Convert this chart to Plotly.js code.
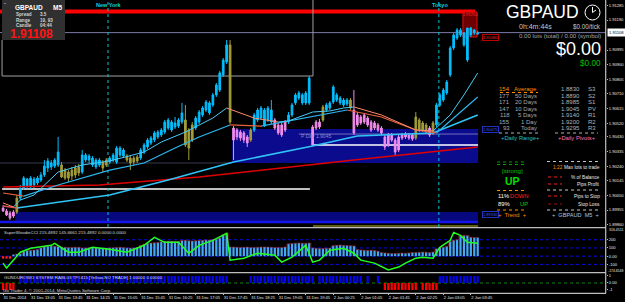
<!DOCTYPE html>
<html><head><meta charset="utf-8">
<script src="https://cdn.plot.ly/plotly-3.0.1.min.js"></script>
<style>html,body{margin:0;padding:0;background:#000;}#chart{width:625px;height:302px;}</style>
</head><body><div id="chart"></div>
<script>
// ================= DATA =================
const barOpen = [1.89968,1.89949,1.89936,1.89942,1.89942,1.90033,1.90098,1.90111,1.90105,1.90118,
 1.90131,1.90150,1.90183,1.90228,1.90235,1.90241,1.90248,1.90248,1.90215,1.90202,
 1.90215,1.90228,1.90235,1.90202,1.90280,1.90280,1.90248,1.90235,1.90248,1.90267,
 1.90280,1.90267,1.90280,1.90267,1.90313,1.90306,1.90306,1.90293,1.90293,1.90300,
 1.90293,1.90332,1.90365,1.90391,1.90410,1.90430,1.90443,1.90462,1.90488,1.90475,
 1.90495,1.90501,1.90527,1.90540,1.90475,1.90508,1.90488,1.90527,1.90573,1.90605,
 1.90586,1.90638,1.90703,1.90735,1.90833,1.90917,1.91028,1.90488,1.90475,1.90462,
 1.90456,1.90430,1.90475,1.90475,1.90540,1.90553,1.90508,1.90540,1.90527,1.90540,
 1.90508,1.90508,1.90527,1.90527,1.90573,1.90651,1.90683,1.90651,1.90651,1.90651,
 1.90495,1.90527,1.90527,1.90625,1.90605,1.90618,1.90657,1.90670,1.90651,1.90638,
 1.90644,1.90670,1.90605,1.90573,1.90560,1.90573,1.90553,1.90527,1.90521,1.90508,
 1.90488,1.90430,1.90443,1.90443,1.90410,1.90430,1.90443,1.90449,1.90443,1.90443,
 1.90560,1.90540,1.90521,1.90508,1.90488,1.90521,1.90508,1.90638,1.90670,1.90716,
 1.90833,1.91008,1.91073,1.91093,1.91028,1.90930,1.91093,1.91106,1.91099];
const barHigh = [1.89988,1.89962,1.89949,1.89955,1.90053,1.90118,1.90176,1.90163,1.90176,1.90170,
 1.90176,1.90202,1.90280,1.90293,1.90280,1.90293,1.90430,1.90267,1.90228,1.90215,
 1.90235,1.90248,1.90254,1.90345,1.90326,1.90319,1.90306,1.90293,1.90293,1.90280,
 1.90293,1.90306,1.90326,1.90371,1.90371,1.90358,1.90319,1.90306,1.90306,1.90313,
 1.90358,1.90391,1.90423,1.90436,1.90469,1.90475,1.90488,1.90540,1.90553,1.90540,
 1.90560,1.90553,1.90651,1.90638,1.90488,1.90527,1.90566,1.90605,1.90631,1.90670,
 1.90664,1.90716,1.90781,1.90859,1.90943,1.91060,1.91060,1.90501,1.90488,1.90475,
 1.90469,1.90443,1.90488,1.90586,1.90618,1.90631,1.90618,1.90631,1.90670,1.90553,
 1.90521,1.90521,1.90540,1.90592,1.90651,1.90716,1.90729,1.90716,1.90729,1.90826,
 1.90508,1.90540,1.90547,1.90638,1.90651,1.90664,1.90768,1.90716,1.90696,1.90683,
 1.90683,1.90683,1.90735,1.90592,1.90573,1.90586,1.90566,1.90540,1.90534,1.90521,
 1.90501,1.90443,1.90456,1.90456,1.90423,1.90443,1.90456,1.90462,1.90456,1.90456,
 1.90592,1.90553,1.90534,1.90521,1.90501,1.90534,1.90651,1.90716,1.90748,1.90800,
 1.91021,1.91106,1.91138,1.91138,1.91112,1.91138,1.91145,1.91132,1.91119];
const barLow = [1.89942,1.89916,1.89890,1.89903,1.89929,1.90020,1.90085,1.90092,1.90092,1.90098,
 1.90118,1.90137,1.90170,1.90202,1.90215,1.90228,1.90235,1.90163,1.90150,1.90137,
 1.90150,1.90163,1.90176,1.90189,1.90267,1.90261,1.90235,1.90222,1.90235,1.90202,
 1.90235,1.90254,1.90267,1.90254,1.90300,1.90293,1.90267,1.90215,1.90248,1.90261,
 1.90280,1.90319,1.90352,1.90378,1.90397,1.90417,1.90430,1.90449,1.90475,1.90462,
 1.90482,1.90488,1.90514,1.90365,1.90280,1.90397,1.90475,1.90514,1.90560,1.90592,
 1.90573,1.90625,1.90690,1.90722,1.90820,1.90904,1.90514,1.90280,1.90410,1.90404,
 1.90391,1.90365,1.90397,1.90462,1.90527,1.90540,1.90495,1.90527,1.90514,1.90475,
 1.90443,1.90430,1.90462,1.90514,1.90560,1.90638,1.90670,1.90638,1.90638,1.90638,
 1.90371,1.90475,1.90482,1.90527,1.90592,1.90605,1.90644,1.90657,1.90638,1.90625,
 1.90631,1.90605,1.90443,1.90495,1.90508,1.90514,1.90495,1.90462,1.90475,1.90462,
 1.90443,1.90345,1.90365,1.90397,1.90313,1.90332,1.90410,1.90417,1.90410,1.90404,
 1.90410,1.90462,1.90462,1.90449,1.90430,1.90443,1.90495,1.90625,1.90657,1.90703,
 1.90820,1.90995,1.91060,1.91080,1.91015,1.90917,1.91080,1.91093,1.91093];
const barClose = [1.89949,1.89923,1.89903,1.89916,1.90033,1.90098,1.90163,1.90157,1.90163,1.90157,
 1.90163,1.90183,1.90241,1.90274,1.90261,1.90280,1.90332,1.90170,1.90163,1.90163,
 1.90176,1.90183,1.90196,1.90313,1.90313,1.90306,1.90293,1.90280,1.90280,1.90228,
 1.90248,1.90293,1.90313,1.90358,1.90358,1.90345,1.90280,1.90261,1.90267,1.90274,
 1.90345,1.90378,1.90410,1.90423,1.90456,1.90462,1.90475,1.90527,1.90540,1.90527,
 1.90521,1.90540,1.90586,1.90378,1.90358,1.90410,1.90553,1.90592,1.90618,1.90657,
 1.90651,1.90703,1.90768,1.90846,1.90930,1.91028,1.90527,1.90410,1.90430,1.90423,
 1.90410,1.90391,1.90410,1.90573,1.90605,1.90618,1.90605,1.90618,1.90605,1.90488,
 1.90456,1.90443,1.90475,1.90573,1.90638,1.90703,1.90716,1.90703,1.90716,1.90813,
 1.90378,1.90488,1.90495,1.90540,1.90638,1.90651,1.90755,1.90703,1.90683,1.90670,
 1.90670,1.90618,1.90456,1.90508,1.90521,1.90527,1.90508,1.90475,1.90488,1.90475,
 1.90456,1.90365,1.90378,1.90410,1.90332,1.90345,1.90423,1.90430,1.90423,1.90417,
 1.90423,1.90475,1.90475,1.90462,1.90443,1.90456,1.90638,1.90703,1.90735,1.90787,
 1.91008,1.91093,1.91125,1.91125,1.91106,1.91138,1.91138,1.91125,1.91106];
// candle colour class per bar: c = bull (sky blue), o = olive, p = pink  (run lengths)
const candleClassRuns = [["p",4],["o",1],["c",12],["o",6],["c",6],["o",2],["c",5],["o",4],["c",13],["o",3],
 ["c",10],["o",1],["p",5],["o",1],["c",6],["p",4],["c",7],["p",3],["o",1],["c",7],["o",1],["p",18],["o",4],["p",1],["o",1],["c",13]];

// time axis (M5 bars, label every 8 bars)
const timeTickIndex = [0,8,16,24,32,40,48,56,64,72,80,88,96,104,112,120,128,136];
const timeTickLabels = ["31 Dec 2014","31 Dec 13:05","31 Dec 13:45","31 Dec 14:25","31 Dec 15:05","31 Dec 15:45",
 "31 Dec 16:25","31 Dec 17:05","31 Dec 17:45","31 Dec 18:25","31 Dec 19:05","31 Dec 19:45",
 "2 Jan 00:25","2 Jan 01:05","2 Jan 01:45","2 Jan 02:25","2 Jan 03:05","2 Jan 03:45"];
const priceTicks = [1.89860,1.89955,1.90050,1.90145,1.90240,1.90335,1.90430,1.90520,1.90615,1.90710,1.90805,1.90900,1.90995,1.91190,1.91285];

// moving averages (knots: bar index / price)
const maFastIdx = [0,3,5,9,16,23,31,41,46,53,61,65,69,73,80,83,90,95,99,102,110,120,125,130,134,138];
const maFastVal = [1.90001,1.89975,1.90020,1.90053,1.90202,1.90248,1.90274,1.90332,1.90397,1.90462,1.90553,1.90618,1.90586,1.90553,1.90527,1.90534,1.90592,1.90599,1.90618,1.90625,1.90573,1.90475,1.90469,1.90573,1.90703,1.90846];
const maMidIdx = [0,6,16,31,41,50,57,66,75,89,100,110,120,126,132,138];
const maMidVal = [1.90066,1.90046,1.90118,1.90215,1.90261,1.90358,1.90430,1.90508,1.90501,1.90560,1.90605,1.90560,1.90475,1.90456,1.90573,1.90690];
const maSlowIdx = [0,4,31,48,67,90,103,125,138];
const maSlowVal = [1.89981,1.89968,1.90053,1.90150,1.90267,1.90371,1.90436,1.90456,1.90573];
const maRedIdx = [0,28,57,90,102,138];
const maRedVal = [1.90105,1.90118,1.90170,1.90254,1.90280,1.90365];

// horizontal levels / zones (prices) and session markers (bar index)
const redLevel = 1.91245, bidPrice = 1.91108, prevBoxLow = 1.90826, prevBoxTop = 1.91060;
const whiteLevelA = 1.90092, whiteLevelB = 1.90378, pDayLevel = 1.90449;
const pivotBoxTop = 1.90482, pivotBoxBottom = 1.90261;
const bandTop = 1.89942, bandBottom = 1.89884, bandLine = 1.89877, oliveLevel = 1.89851;
const redBoxTop = 1.91242, redBoxBottom = 1.91080;
const newYorkIdx = 30.5, tokyoIdx = 126.7;

// SuperWoodieCCI histogram (per bar) and CCI line (knots)
const cciHist = [-30,-30,-30,20,25,30,60,70,72,75,80,
 100,115,120,125,120,118,
 110,108,105,105,108,108,
 100,100,102,104,100,98,96,98,100,102,106,108,104,100,98,100,104,
 130,145,156,160,162,165,
 175,180,182,180,178,180,
 190,192,188,185,188,190,192,195,196,200,205,220,
 260,280,
 112,110,108,106,108,110,106,104,108,110,112,110,108,106,104,106,110,
 150,155,158,160,158,156,160,
 100,96,92,94,96,98,
 128,132,135,132,130,128,125,
 80,75,72,70,72,68,60,
 45,40,36,34,32,36,38,36,40,
 44,46,48,50,48,46,50,
 90,100,108,120,
 180,192,200,
 245,252,250,
 230,228,226];
const cciLineIdx = [0,1,5,8,14,15,19,22,26,31,36,41,44,47,51,54,57,61,65,66,70,74,79,81,84,88,90,92,95,99,102,104,108,112,115,117,120,122,125,127,130,131,133,135,138];
const cciLineVal = [-84,-144,48,96,132,156,48,48,108,84,48,132,228,168,168,36,132,192,276,-48,-24,36,12,-72,-12,132,-72,-48,72,96,36,-48,-84,-168,-132,-84,-24,-12,-24,108,192,288,252,168,156];
const cciLevels = [200,100,0,-100];
const cciTickVals = [200,100,0,-100];
const cciTickText = ["200","100","0.00","-100"];
const cciMax = 316.4511, cciMin = -174.6548;

// Gunduro signal per bar (run lengths: value, count)
const gunduroRuns = [[-1,4],[0,1],[1,61],[0,6],[1,19],[0,1],[1,11],[1,2],[0,1],[1,1],[0,2],[1,1],[0,1],[-1,10],[0,1],[-1,5],[1,12]];

// info panel table
const rangeCounts = ["154","177","171","147","118","155","93"];
const rangeNames = ["Average","50 Days","20 Days","10 Days","5 Days","1 Day","Today"];
const pivotValues = ["1.8830","1.8890","1.8985","1.9045","1.9140","1.9200","1.9295"];
const pivotNames = ["S3","S2","S1","PV","R1","R2","R3"];

// ================= CHART =================
const FONT = "Liberation Sans, Arial, sans-serif";
const W = 606, H = 293;
const expand = runs => runs.flatMap(([v, n]) => Array(n).fill(v));
const barClass = expand(candleClassRuns);
const gunduro = expand(gunduroRuns);
const barIndex = barOpen.map((_, i) => i);
const firstX = -0.9, lastX = barOpen.length - 0.9;

const traces = [];
const classColor = {c:'#00BFFF', o:'#A39D3A', p:'#F28CEC'};
['c','o','p'].forEach(k => {
  const ids = barIndex.filter(i => barClass[i] === k);
  const col = classColor[k];
  traces.push({type:'candlestick', xaxis:'x', yaxis:'y', x: ids,
    open: ids.map(i => barOpen[i]), high: ids.map(i => barHigh[i]),
    low: ids.map(i => barLow[i]), close: ids.map(i => barClose[i]),
    increasing:{line:{color:col, width:1}, fillcolor:col},
    decreasing:{line:{color:col, width:1}, fillcolor:col},
    whiskerwidth:0, hoverinfo:'skip'});
});

function maTraces(idx, val, upColor, downColor, width) {
  const out = []; let start = 0;
  for (let j = 1; j < idx.length; j++) {
    const up = val[j] >= val[j-1];
    const last = j === idx.length - 1;
    const nextUp = last ? null : val[j+1] >= val[j];
    if (last || nextUp !== up) {
      out.push({type:'scatter', mode:'lines', xaxis:'x', yaxis:'y',
        x: idx.slice(start, j+1), y: val.slice(start, j+1),
        line:{color: up ? upColor : downColor, width}, hoverinfo:'skip'});
      start = j;
    }
  }
  return out;
}
traces.push({type:'scatter', mode:'lines', xaxis:'x', yaxis:'y', x: maRedIdx, y: maRedVal, line:{color:'#E00000', width:1.6}, hoverinfo:'skip'});
traces.push(...maTraces(maSlowIdx, maSlowVal, '#30C4F6', '#D85050', 1.6));
traces.push(...maTraces(maMidIdx, maMidVal, '#2EB6EE', '#E8603E', 1.2));
traces.push(...maTraces(maFastIdx, maFastVal, '#48CCF8', '#FF8C6A', 1));

// CCI pane
traces.push({type:'bar', xaxis:'x', yaxis:'y2', x: barIndex, y: cciHist,
  marker:{color: cciHist.map(v => v < 0 ? '#FF1E1E' : '#46A8F2'), line:{width:0}}, hoverinfo:'skip'});
traces.push({type:'scatter', mode:'lines', xaxis:'x', yaxis:'y2', x: barIndex, y: cciHist.map(v => v > 0 ? v : null),
  line:{shape:'hvh', color:'#A02020', width:0.6}, hoverinfo:'skip', connectgaps:false});
traces.push({type:'scatter', mode:'lines', xaxis:'x', yaxis:'y2', x: cciLineIdx, y: cciLineVal,
  line:{color:'#22FF22', width:1.5}, hoverinfo:'skip'});
// Gunduro pane
traces.push({type:'bar', xaxis:'x', yaxis:'y3', x: barIndex, y: gunduro,
  marker:{color: gunduro.map(v => v < 0 ? '#FF0000' : '#0505E6'), line:{width:0}}, hoverinfo:'skip'});

// ---------- shapes ----------
const shapes = [];
const hline = (y, x0, x1, color, width, dash, layer, yref) => shapes.push({type:'line', xref:'x', yref: yref || 'y',
  x0, x1, y0:y, y1:y, line:{color, width, dash: dash || 'solid'}, layer: layer || 'below'});
const rect = (x0, x1, y0, y1, fill, lineColor, layer) => shapes.push({type:'rect', xref:'x', yref:'y', x0, x1, y0, y1,
  fillcolor: fill, line:{color: lineColor || fill, width: lineColor ? 1 : 0}, layer: layer || 'below'});
// zones
rect(66.6, lastX, pivotBoxBottom, pivotBoxTop, '#0B0B8E');
rect(3.5, lastX, bandBottom, bandTop, '#08087E');
hline(bandLine, firstX, lastX, '#1414F0', 2.5);
hline(oliveLevel, 90.1, lastX, '#7C7A1E', 1.5);
hline(pivotBoxBottom, firstX, 66.6, '#3A3A4E', 1);
hline(whiteLevelA, -0.3, 89.2, '#FFFFFF', 1.3);
hline(whiteLevelB, 90.1, lastX, '#FFFFFF', 1.6);
hline(pDayLevel, 86, lastX, '#8A8AC8', 0.8);
hline(redLevel, firstX, 137.2, '#FF0000', 4);
rect(133.7, 137.8, redBoxBottom, redBoxTop, 'rgba(128,0,0,0.85)', '#E01010');
// previous session box (grey)
hline(prevBoxLow, -0.3, 90.1, '#A0A0A0', 1);
shapes.push({type:'line', xref:'x', yref:'y', x0:90.1, x1:90.1, y0:prevBoxLow, y1:1.9140, line:{color:'#A0A0A0', width:1}, layer:'below'});
shapes.push({type:'line', xref:'x', yref:'y', x0:-0.3, x1:-0.3, y0:prevBoxLow, y1:prevBoxTop, line:{color:'#A0A0A0', width:1}, layer:'below'});
// bid line
shapes.push({type:'line', xref:'paper', yref:'y', x0:0, x1:1, y0:bidPrice, y1:bidPrice, line:{color:'#7A7AA8', width:1}, layer:'below'});
// sessions
[newYorkIdx, tokyoIdx].forEach(ix => shapes.push({type:'line', xref:'x', yref:'y', x0:ix, x1:ix, y0:1.89845, y1:1.9132,
  line:{color:'#00C8D0', width:1, dash:'dot'}, layer:'below'}));
// CCI levels & gunduro zero
cciLevels.forEach(l => shapes.push({type:'line', xref:'paper', yref:'y2', x0:0, x1:1, y0:l, y1:l, line:{color:'#0A0ADC', width:1, dash:'dot'}, layer:'below'}));
shapes.push({type:'line', xref:'paper', yref:'y3', x0:0, x1:1, y0:0, y1:0, line:{color:'#0A8A0A', width:1, dash:'dot'}, layer:'below'});

// paper helpers
const PX = x => x / W, PY = y => 1 - y / H;
const pline = (x0, x1, y0, y1, color, width, dash) => shapes.push({type:'line', xref:'paper', yref:'paper',
  x0:PX(x0), x1:PX(x1), y0:PY(y0), y1:PY(y1), line:{color, width, dash: dash || 'solid'}, layer:'above'});
// pane borders
pline(0, W, 227.6, 227.6, '#BEBEBE', 1.2);
pline(0, W, 272.6, 272.6, '#BEBEBE', 1.2);
pline(0, W, 293.3, 293.3, '#BEBEBE', 1.2);
pline(W - 0.3, W - 0.3, 0, 293.3, '#BEBEBE', 1.2);
// info box top-left
shapes.push({type:'rect', xref:'paper', yref:'paper', x0:PX(2), x1:PX(65), y0:PY(40), y1:PY(0), fillcolor:'#303030', line:{width:0}, layer:'above'});
// clock icon
shapes.push({type:'circle', xref:'paper', yref:'paper', x0:PX(585), x1:PX(600), y0:PY(20), y1:PY(5), line:{color:'#FFFFFF', width:1}, layer:'above'});
pline(592.5, 592.5, 12.5, 7, '#FFFFFF', 1);
pline(592.5, 596, 12.5, 10, '#FFFFFF', 1);
// panel dotted rules
pline(500, 538, 92.5, 92.5, '#FF8C00', 1, 'dot');
pline(499, 541, 133, 133, '#B0B0B0', 1, 'dot');
pline(555, 598, 133, 133, '#B0B0B0', 1, 'dot');
pline(497, 527, 162, 162, '#00A000', 1, 'dot');
pline(497, 527, 164.5, 164.5, '#00A000', 1, 'dot');
pline(497, 527, 190.5, 190.5, '#FF8C00', 1, 'dot');
pline(497, 527, 210, 210, '#FF8C00', 1, 'dot');
pline(547, 600, 161.5, 161.5, '#C8C8C8', 1, 'dot');
pline(547, 600, 190, 190, '#C8C8C8', 1, 'dot');
pline(547, 600, 210, 210, '#C8C8C8', 1, 'dot');
pline(548, 562, 177, 177, '#FF2020', 1, 'dot');
pline(548, 562, 184, 184, '#FF2020', 1, 'dot');
pline(548, 562, 196, 196, '#FF2020', 1, 'dot');
pline(548, 562, 204, 204, '#A01010', 1, 'dot');

// ---------- annotations ----------
const ann = [];
const note = (x, y, text, color, size, anchor, extra) => ann.push(Object.assign({xref:'paper', yref:'paper',
  x: PX(x), y: PY(y), text, showarrow:false, font:{family:FONT, size, color}, xanchor: anchor || 'left', yanchor:'middle', borderpad:0}, extra || {}));
// info box
note(3, 3, '-', '#FFFFFF', 6);
note(14, 7, '<b>GBPAUD</b>', '#FFFFFF', 6.5);
note(52, 7, '<b>M5</b>', '#FFFFFF', 6.5);
note(15, 14, '<b>Spread</b>', '#D0D0D0', 4.6); note(39, 14, '<b>3.5</b>', '#D0D0D0', 4.6);
note(15, 20, '<b>Range</b>', '#D0D0D0', 4.6); note(39, 20, '<b>19, 93</b>', '#D0D0D0', 4.6);
note(15, 25.5, '<b>Candle</b>', '#D0D0D0', 4.6); note(39, 25.5, '<b>04:44</b>', '#D0D0D0', 4.6);
note(9, 34.5, '<b>1.91108</b>', '#FF1414', 12);
// sessions
note(108.5, 4.5, '<b>New York</b>', '#00D2D8', 5.5, 'center');
note(439.5, 4.5, '<b>Tokyo</b>', '#00D2D8', 5.5, 'center');
// price tags
note(470.5, 15, '1.91250', '#FF3030', 4, 'center');
note(482, 37.5, '1.91080', '#FF2020', 4, 'left', {bordercolor:'#C00000', borderwidth:1, bgcolor:'#000000'});
note(482, 130, '1.90475', '#3A50FF', 4, 'left', {bordercolor:'#2030C0', borderwidth:1, bgcolor:'#000000'});
note(482, 214, '1.89930', '#3A50FF', 4, 'left', {bordercolor:'#2030C0', borderwidth:1, bgcolor:'#000000'});
ann.push({xref:'x', yref:'y', x:86, y:1.90436, text:'P Day 1.9045', showarrow:false, xanchor:'left', yanchor:'middle',
  font:{family:FONT, size:5, color:'#8C8CD0'}});
// right info panel
note(580, 11.5, 'GBPAUD', '#FFFFFF', 17.5, 'right');
note(518, 26.5, '0h:4m:44s', '#C8C8C8', 7);
note(602, 26.5, '$0.00/tick', '#C8C8C8', 6.3, 'right');
note(602, 35, '0.00 lots (total) / 0.00 (symbol)', '#A8A8A8', 6.1, 'right');
note(602, 49.5, '$0.00', '#FFFFFF', 18, 'right');
note(602, 63.5, '$0.00', '#00C000', 8.2, 'right');
const rowY = [89, 95.5, 102, 108.5, 115, 121.5, 128];
rowY.forEach((y, r) => {
  const c = r === 0 ? '#FF8C00' : '#A8A8A8';
  note(511, y, rangeCounts[r], c, 6, 'right');
  note(538, y, rangeNames[r], c, 6, 'right');
  note(560, y, pivotValues[r], '#B4B4B4', 6, 'left');
  note(587, y, pivotNames[r], '#B4B4B4', 6, 'left');
});
note(520, 138, '+Daily Range+', '#22C0C0', 5.8, 'center');
note(577, 138, '+Daily Pivots+', '#FF70B4', 5.8, 'center');
note(512, 170.5, '[strong]', '#00C000', 6.2, 'center');
note(512, 181, '<b>UP</b>', '#00E000', 10.5, 'center');
note(497, 196, '11%', '#FFFFFF', 5.8); note(529, 196, 'DOWN', '#FF2020', 5.8, 'right');
note(497, 204, '89%', '#FFFFFF', 5.8); note(529, 204, 'UP', '#00D000', 5.8, 'right');
note(512, 215.5, '+  Trend  +', '#FF8C00', 5.8, 'center');
note(552, 167, '1:22', '#FF8C00', 4.8); note(601, 167, 'Max lots to trade', '#E8E8E8', 4.8, 'right');
note(601, 177, '% of Balance', '#E8E8E8', 4.8, 'right');
note(601, 184, 'Pips Profit', '#E8E8E8', 4.8, 'right');
note(601, 196, 'Pips to Stop', '#E8E8E8', 4.8, 'right');
note(601, 204, 'Stop Loss', '#E8E8E8', 4.8, 'right');
note(575, 215.5, '+  GBPAUD  M5  +', '#B0C4DE', 5.6, 'center');
// sub-window captions
note(3, 232, 'SuperWoodieCCI 215.4892 145.6661 215.4892 0.0000 0.0000', '#D8D8D8', 4.4);
note(3, 277.5, 'GUNDUROWO SYSTEM RAIB-03 TP#415 [Yellow-NO TRADE] 1.00000 0.00000', '#D8D8D8', 4.4);
note(2, 290.5, 'Go Trader 4, \u00A9 2001-2014, MetaQuotes Software Corp.', '#D8D8D8', 4.4);
// CCI scale extremes (long labels, slightly smaller)
ann.push({xref:'paper', yref:'y2', x:1, xshift:2, y:cciMax, text:String(cciMax), showarrow:false, xanchor:'left', yanchor:'middle',
  borderpad:0, font:{family:FONT, size:3.5, color:'#E6E6E6'}});
ann.push({xref:'paper', yref:'y2', x:1, xshift:1, y:cciMin, text:String(cciMin), showarrow:false, xanchor:'left', yanchor:'middle',
  borderpad:0, font:{family:FONT, size:3.4, color:'#E6E6E6'}});
// bid label on the axis
ann.push({xref:'paper', yref:'y', x:1, xshift:1, y:bidPrice, text:bidPrice.toFixed(5), showarrow:false, xanchor:'left', yanchor:'middle',
  bgcolor:'#FFFFFF', borderpad:1, font:{family:FONT, size:4.1, color:'#000000'}});

const axFont = {family:FONT, size:4.1, color:'#E6E6E6'};
const layout = {
  width:625, height:302, margin:{l:0, r:19, t:0, b:9},
  paper_bgcolor:'#000000', plot_bgcolor:'#000000', showlegend:false, hovermode:false,
  bargap:0.35, boxmode:'overlay',
  xaxis:{domain:[0,1], anchor:'y3', range:[firstX, 175.3], showgrid:false, zeroline:false, showline:false,
    tickvals:timeTickIndex, ticktext:timeTickLabels, tickfont:{family:FONT, size:4, color:'#E6E6E6'}, tickangle:0,
    ticks:'outside', ticklen:1, tickcolor:'#BEBEBE', ticklabelposition:'outside right', rangeslider:{visible:false}},
  yaxis:{domain:[0.2253,1], anchor:'x', side:'right', range:[1.89845,1.9132], showgrid:false, zeroline:false,
    tickvals:priceTicks, tickformat:'.5f', tickfont:axFont, ticks:'outside', ticklen:1, tickcolor:'#BEBEBE'},
  yaxis2:{domain:[0.0717,0.2201], anchor:'x', side:'right', range:[-192,336], showgrid:false, zeroline:false,
    tickvals:cciTickVals, ticktext:cciTickText, tickfont:axFont, ticks:'outside', ticklen:1, tickcolor:'#BEBEBE'},
  yaxis3:{domain:[0,0.0683], anchor:'x', side:'right', range:[-1.43,1.43], showgrid:false, zeroline:false,
    tickvals:[1,0,-1], ticktext:["1","0.00","-1"], tickfont:axFont, ticks:'outside', ticklen:1, tickcolor:'#BEBEBE'},
  shapes, annotations: ann
};
Plotly.newPlot('chart', traces, layout, {staticPlot:true, displayModeBar:false});
</script>
</body></html>
